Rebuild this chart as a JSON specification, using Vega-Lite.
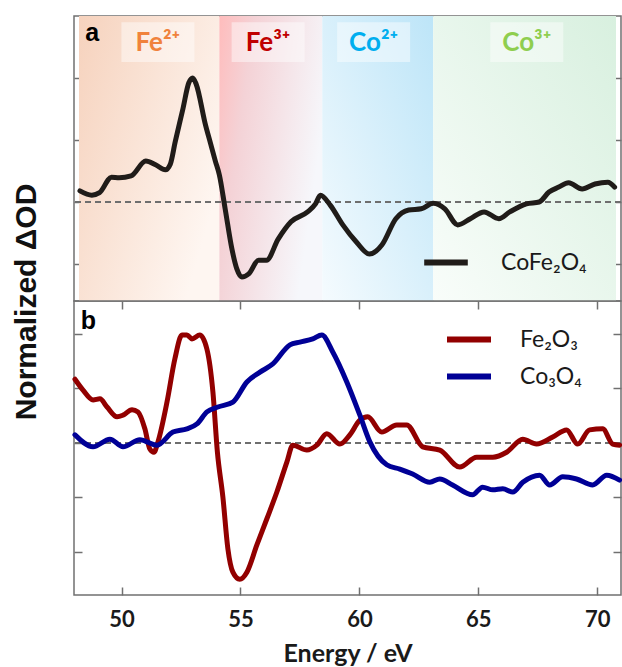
{
  "$schema": "https://vega.github.io/schema/vega-lite/v6.json",
  "padding": {"left": 10, "top": 14, "right": 1, "bottom": 0},
  "spacing": 0,
  "bounds": "flush",
  "background": "white",
  "resolve": {"scale": {"color": "independent", "fill": "independent"}, "legend": {"color": "independent"}},
  "config": {
    "view": {"stroke": "#707070", "strokeWidth": 1.5},
    "axis": {"domain": false, "grid": false, "labels": false, "ticks": true, "tickSize": -8, "tickColor": "#707070", "tickWidth": 1.5}
  },
  "datasets": {
    "ions": [
      {"ion": "Fe²⁺", "start": 48, "end": 54.01, "E": 51.38},
      {"ion": "Fe³⁺", "start": 54.01, "end": 58.42, "E": 56.1},
      {"ion": "Co²⁺", "start": 58.42, "end": 63.17, "E": 60.62},
      {"ion": "Co³⁺", "start": 63.17, "end": 71, "E": 67.18}
    ],
    "cofe": [
      {"series": "CoFe₂O₄", "E": 48.04, "v": 0.18}, {"series": "CoFe₂O₄", "E": 48.55, "v": 0.11}, {"series": "CoFe₂O₄", "E": 48.88, "v": 0.15},
      {"series": "CoFe₂O₄", "E": 49.39, "v": 0.40}, {"series": "CoFe₂O₄", "E": 49.72, "v": 0.39}, {"series": "CoFe₂O₄", "E": 50.23, "v": 0.42},
      {"series": "CoFe₂O₄", "E": 50.86, "v": 0.66}, {"series": "CoFe₂O₄", "E": 51.28, "v": 0.60}, {"series": "CoFe₂O₄", "E": 51.70, "v": 0.52},
      {"series": "CoFe₂O₄", "E": 51.91, "v": 0.61}, {"series": "CoFe₂O₄", "E": 52.12, "v": 0.97}, {"series": "CoFe₂O₄", "E": 52.45, "v": 1.50},
      {"series": "CoFe₂O₄", "E": 52.70, "v": 1.92}, {"series": "CoFe₂O₄", "E": 52.87, "v": 2.0}, {"series": "CoFe₂O₄", "E": 53.02, "v": 1.90},
      {"series": "CoFe₂O₄", "E": 53.42, "v": 1.24}, {"series": "CoFe₂O₄", "E": 53.63, "v": 0.95}, {"series": "CoFe₂O₄", "E": 53.84, "v": 0.66},
      {"series": "CoFe₂O₄", "E": 54.01, "v": 0.44}, {"series": "CoFe₂O₄", "E": 54.26, "v": -0.11}, {"series": "CoFe₂O₄", "E": 54.55, "v": -0.76},
      {"series": "CoFe₂O₄", "E": 54.76, "v": -1.08}, {"series": "CoFe₂O₄", "E": 54.97, "v": -1.21}, {"series": "CoFe₂O₄", "E": 55.27, "v": -1.16},
      {"series": "CoFe₂O₄", "E": 55.69, "v": -0.94}, {"series": "CoFe₂O₄", "E": 56.03, "v": -0.94}, {"series": "CoFe₂O₄", "E": 56.53, "v": -0.60},
      {"series": "CoFe₂O₄", "E": 57.08, "v": -0.32}, {"series": "CoFe₂O₄", "E": 57.79, "v": -0.16}, {"series": "CoFe₂O₄", "E": 58.13, "v": -0.03},
      {"series": "CoFe₂O₄", "E": 58.34, "v": 0.11}, {"series": "CoFe₂O₄", "E": 58.76, "v": -0.05}, {"series": "CoFe₂O₄", "E": 59.30, "v": -0.37},
      {"series": "CoFe₂O₄", "E": 59.89, "v": -0.65}, {"series": "CoFe₂O₄", "E": 60.44, "v": -0.84}, {"series": "CoFe₂O₄", "E": 60.98, "v": -0.69},
      {"series": "CoFe₂O₄", "E": 61.57, "v": -0.27}, {"series": "CoFe₂O₄", "E": 62.12, "v": -0.13}, {"series": "CoFe₂O₄", "E": 62.66, "v": -0.11},
      {"series": "CoFe₂O₄", "E": 63.17, "v": -0.02}, {"series": "CoFe₂O₄", "E": 63.67, "v": -0.11}, {"series": "CoFe₂O₄", "E": 64.22, "v": -0.37},
      {"series": "CoFe₂O₄", "E": 64.76, "v": -0.27}, {"series": "CoFe₂O₄", "E": 65.35, "v": -0.16}, {"series": "CoFe₂O₄", "E": 65.98, "v": -0.27},
      {"series": "CoFe₂O₄", "E": 66.45, "v": -0.16}, {"series": "CoFe₂O₄", "E": 67.16, "v": -0.03}, {"series": "CoFe₂O₄", "E": 67.71, "v": 0.0},
      {"series": "CoFe₂O₄", "E": 68.13, "v": 0.16}, {"series": "CoFe₂O₄", "E": 68.55, "v": 0.24}, {"series": "CoFe₂O₄", "E": 68.97, "v": 0.31},
      {"series": "CoFe₂O₄", "E": 69.55, "v": 0.21}, {"series": "CoFe₂O₄", "E": 70.10, "v": 0.29}, {"series": "CoFe₂O₄", "E": 70.65, "v": 0.32},
      {"series": "CoFe₂O₄", "E": 70.94, "v": 0.24}
    ],
    "ref": [
      {"series": "Fe₂O₃", "E": 48.04, "v": 1.17}, {"series": "Fe₂O₃", "E": 48.38, "v": 0.97}, {"series": "Fe₂O₃", "E": 48.80, "v": 0.79},
      {"series": "Fe₂O₃", "E": 49.09, "v": 0.81}, {"series": "Fe₂O₃", "E": 49.39, "v": 0.66}, {"series": "Fe₂O₃", "E": 49.81, "v": 0.48},
      {"series": "Fe₂O₃", "E": 50.06, "v": 0.51}, {"series": "Fe₂O₃", "E": 50.44, "v": 0.61}, {"series": "Fe₂O₃", "E": 50.69, "v": 0.57},
      {"series": "Fe₂O₃", "E": 50.98, "v": 0.26}, {"series": "Fe₂O₃", "E": 51.19, "v": -0.11}, {"series": "Fe₂O₃", "E": 51.36, "v": -0.17},
      {"series": "Fe₂O₃", "E": 51.53, "v": 0.02}, {"series": "Fe₂O₃", "E": 51.91, "v": 0.75}, {"series": "Fe₂O₃", "E": 52.24, "v": 1.54},
      {"series": "Fe₂O₃", "E": 52.54, "v": 1.98}, {"series": "Fe₂O₃", "E": 52.75, "v": 1.98}, {"series": "Fe₂O₃", "E": 52.96, "v": 1.91},
      {"series": "Fe₂O₃", "E": 53.29, "v": 1.98}, {"series": "Fe₂O₃", "E": 53.59, "v": 1.72}, {"series": "Fe₂O₃", "E": 53.84, "v": 0.94},
      {"series": "Fe₂O₃", "E": 54.03, "v": -0.17}, {"series": "Fe₂O₃", "E": 54.26, "v": -0.99}, {"series": "Fe₂O₃", "E": 54.47, "v": -1.94},
      {"series": "Fe₂O₃", "E": 54.68, "v": -2.37}, {"series": "Fe₂O₃", "E": 54.97, "v": -2.50}, {"series": "Fe₂O₃", "E": 55.27, "v": -2.37},
      {"series": "Fe₂O₃", "E": 55.69, "v": -1.87}, {"series": "Fe₂O₃", "E": 56.11, "v": -1.39}, {"series": "Fe₂O₃", "E": 56.53, "v": -0.90},
      {"series": "Fe₂O₃", "E": 56.95, "v": -0.35}, {"series": "Fe₂O₃", "E": 57.20, "v": -0.04}, {"series": "Fe₂O₃", "E": 57.79, "v": -0.13},
      {"series": "Fe₂O₃", "E": 58.21, "v": -0.04}, {"series": "Fe₂O₃", "E": 58.63, "v": 0.17}, {"series": "Fe₂O₃", "E": 59.18, "v": -0.02},
      {"series": "Fe₂O₃", "E": 59.60, "v": 0.15}, {"series": "Fe₂O₃", "E": 60.02, "v": 0.42}, {"series": "Fe₂O₃", "E": 60.35, "v": 0.48},
      {"series": "Fe₂O₃", "E": 60.94, "v": 0.20}, {"series": "Fe₂O₃", "E": 61.57, "v": 0.33}, {"series": "Fe₂O₃", "E": 61.99, "v": 0.33},
      {"series": "Fe₂O₃", "E": 62.66, "v": -0.07}, {"series": "Fe₂O₃", "E": 63.38, "v": -0.13}, {"series": "Fe₂O₃", "E": 64.22, "v": -0.44},
      {"series": "Fe₂O₃", "E": 64.93, "v": -0.26}, {"series": "Fe₂O₃", "E": 65.61, "v": -0.26}, {"series": "Fe₂O₃", "E": 66.19, "v": -0.17},
      {"series": "Fe₂O₃", "E": 66.87, "v": 0.07}, {"series": "Fe₂O₃", "E": 67.45, "v": -0.02}, {"series": "Fe₂O₃", "E": 68.13, "v": 0.11},
      {"series": "Fe₂O₃", "E": 68.71, "v": 0.24}, {"series": "Fe₂O₃", "E": 69.18, "v": -0.02}, {"series": "Fe₂O₃", "E": 69.68, "v": 0.24},
      {"series": "Fe₂O₃", "E": 70.23, "v": 0.26}, {"series": "Fe₂O₃", "E": 70.65, "v": -0.02}, {"series": "Fe₂O₃", "E": 70.94, "v": -0.04},
      {"series": "Co₃O₄", "E": 48.04, "v": 0.15}, {"series": "Co₃O₄", "E": 48.80, "v": -0.07}, {"series": "Co₃O₄", "E": 49.51, "v": 0.07},
      {"series": "Co₃O₄", "E": 50.06, "v": -0.07}, {"series": "Co₃O₄", "E": 50.77, "v": 0.06}, {"series": "Co₃O₄", "E": 51.49, "v": -0.04},
      {"series": "Co₃O₄", "E": 52.16, "v": 0.20}, {"series": "Co₃O₄", "E": 52.75, "v": 0.26}, {"series": "Co₃O₄", "E": 53.17, "v": 0.35},
      {"series": "Co₃O₄", "E": 53.59, "v": 0.57}, {"series": "Co₃O₄", "E": 54.05, "v": 0.66}, {"series": "Co₃O₄", "E": 54.68, "v": 0.75},
      {"series": "Co₃O₄", "E": 55.27, "v": 1.12}, {"series": "Co₃O₄", "E": 55.82, "v": 1.30}, {"series": "Co₃O₄", "E": 56.36, "v": 1.45},
      {"series": "Co₃O₄", "E": 57.08, "v": 1.80}, {"series": "Co₃O₄", "E": 57.50, "v": 1.85}, {"series": "Co₃O₄", "E": 58.04, "v": 1.91},
      {"series": "Co₃O₄", "E": 58.42, "v": 1.98}, {"series": "Co₃O₄", "E": 58.88, "v": 1.67}, {"series": "Co₃O₄", "E": 59.47, "v": 1.12},
      {"series": "Co₃O₄", "E": 60.02, "v": 0.51}, {"series": "Co₃O₄", "E": 60.44, "v": 0.02}, {"series": "Co₃O₄", "E": 61.15, "v": -0.40},
      {"series": "Co₃O₄", "E": 61.70, "v": -0.48}, {"series": "Co₃O₄", "E": 62.24, "v": -0.57}, {"series": "Co₃O₄", "E": 62.96, "v": -0.72},
      {"series": "Co₃O₄", "E": 63.38, "v": -0.66}, {"series": "Co₃O₄", "E": 63.92, "v": -0.77}, {"series": "Co₃O₄", "E": 64.76, "v": -0.95},
      {"series": "Co₃O₄", "E": 65.18, "v": -0.81}, {"series": "Co₃O₄", "E": 65.61, "v": -0.86}, {"series": "Co₃O₄", "E": 66.03, "v": -0.84},
      {"series": "Co₃O₄", "E": 66.45, "v": -0.90}, {"series": "Co₃O₄", "E": 66.87, "v": -0.72}, {"series": "Co₃O₄", "E": 67.58, "v": -0.59},
      {"series": "Co₃O₄", "E": 68.00, "v": -0.77}, {"series": "Co₃O₄", "E": 68.55, "v": -0.62}, {"series": "Co₃O₄", "E": 69.13, "v": -0.66},
      {"series": "Co₃O₄", "E": 69.81, "v": -0.77}, {"series": "Co₃O₄", "E": 70.40, "v": -0.59}, {"series": "Co₃O₄", "E": 70.94, "v": -0.68}
    ]
  },
  "vconcat": [
    {
      "width": 547,
      "height": 285,
      "layer": [
        {
          "data": {"name": "ions"},
          "transform": [{"filter": "datum.ion === 'Fe²⁺'"}],
          "mark": {"type": "rect", "fill": {"gradient": "linear", "x1": 0, "y1": 0, "x2": 1, "y2": 0.6, "stops": [{"offset": 0, "color": "#f6d2bd"}, {"offset": 1, "color": "#fef6f1"}]}},
          "encoding": {
            "x": {"field": "start", "type": "quantitative", "scale": {"domain": [48, 71], "nice": false}, "axis": null},
            "x2": {"field": "end"}
          }
        },
        {
          "data": {"name": "ions"},
          "transform": [{"filter": "datum.ion === 'Fe³⁺'"}],
          "mark": {"type": "rect", "fill": {"gradient": "linear", "x1": 0, "y1": 0, "x2": 1, "y2": 0.4, "stops": [{"offset": 0, "color": "#ffbcbc"}, {"offset": 0.3, "color": "#f4d2d6"}, {"offset": 1, "color": "#f6f7fb"}]}},
          "encoding": {
            "x": {"field": "start", "type": "quantitative", "scale": {"domain": [48, 71], "nice": false}, "axis": null},
            "x2": {"field": "end"}
          }
        },
        {
          "data": {"name": "ions"},
          "transform": [{"filter": "datum.ion === 'Co²⁺'"}],
          "mark": {"type": "rect", "fill": {"gradient": "linear", "x1": 0, "y1": 1, "x2": 1, "y2": 0, "stops": [{"offset": 0, "color": "#f5fbfe"}, {"offset": 1, "color": "#bde5f8"}]}},
          "encoding": {
            "x": {"field": "start", "type": "quantitative", "scale": {"domain": [48, 71], "nice": false}, "axis": null},
            "x2": {"field": "end"}
          }
        },
        {
          "data": {"name": "ions"},
          "transform": [{"filter": "datum.ion === 'Co³⁺'"}],
          "mark": {"type": "rect", "fill": {"gradient": "linear", "x1": 0, "y1": 1, "x2": 1, "y2": 0, "stops": [{"offset": 0, "color": "#f9fdfa"}, {"offset": 1, "color": "#d8f0df"}]}},
          "encoding": {
            "x": {"field": "start", "type": "quantitative", "scale": {"domain": [48, 71], "nice": false}, "axis": null},
            "x2": {"field": "end"}
          }
        },
        {
          "data": {"name": "ions"},
          "mark": {"type": "bar", "width": 73, "fill": "white", "opacity": 0.45},
          "encoding": {
            "x": {"field": "E", "type": "quantitative", "scale": {"domain": [48, 71], "nice": false}, "axis": null},
            "y": {"datum": 2.9, "type": "quantitative", "scale": {"domain": [-1.597, 3], "nice": false}, "axis": null},
            "y2": {"datum": 2.26}
          }
        },
        {
          "data": {"name": "ions"},
          "mark": {"type": "text", "font": "Lato", "fontSize": 26, "fontWeight": "bold", "align": "center", "baseline": "alphabetic"},
          "encoding": {
            "x": {"field": "E", "type": "quantitative", "scale": {"domain": [48, 71], "nice": false}, "axis": {"orient": "top", "values": [50, 55, 60, 65, 70], "title": null}},
            "y": {"datum": 2.44, "type": "quantitative", "scale": {"domain": [-1.597, 3], "nice": false}, "axis": {"orient": "right", "values": [-1, 0, 1, 2], "title": null}},
            "text": {"field": "ion"},
            "fill": {"field": "ion", "type": "nominal", "scale": {"domain": ["Fe²⁺", "Fe³⁺", "Co²⁺", "Co³⁺"], "range": ["#f0823c", "#c00000", "#00aeef", "#8fce4f"]}, "legend": null}
          }
        },
        {
          "data": {"values": [{}]},
          "mark": {"type": "text", "text": "a", "font": "Liberation Sans", "fontSize": 25, "fontWeight": "bold", "align": "center", "baseline": "alphabetic", "color": "#000000"},
          "encoding": {
            "x": {"datum": 48.57, "type": "quantitative", "scale": {"domain": [48, 71], "nice": false}, "axis": null},
            "y": {"datum": 2.6, "type": "quantitative", "scale": {"domain": [-1.597, 3], "nice": false}, "axis": null}
          }
        },
        {
          "data": {"values": [{}]},
          "mark": {"type": "rule", "strokeDash": [6, 4], "color": "#6e6e6e", "strokeWidth": 2},
          "encoding": {
            "y": {"datum": 0, "type": "quantitative", "scale": {"domain": [-1.597, 3], "nice": false}, "axis": null}
          }
        },
        {
          "data": {"name": "cofe"},
          "mark": {"type": "line", "strokeWidth": 5, "strokeJoin": "round", "strokeCap": "round", "interpolate": "monotone"},
          "encoding": {
            "x": {"field": "E", "type": "quantitative", "scale": {"domain": [48, 71], "nice": false}, "axis": {"orient": "bottom", "values": [50, 55, 60, 65, 70], "title": null}},
            "y": {"field": "v", "type": "quantitative", "scale": {"domain": [-1.597, 3], "nice": false}, "axis": {"orient": "left", "values": [-1, 0, 1, 2], "title": null}},
            "color": {
              "field": "series", "type": "nominal",
              "scale": {"domain": ["CoFe₂O₄"], "range": ["#201c19"]},
              "legend": {"orient": "none", "legendX": 347, "legendY": 235, "title": null, "symbolType": "stroke", "symbolStrokeWidth": 6, "symbolSize": 1900, "clipHeight": 23, "labelFont": "Lato", "labelFontSize": 23, "labelColor": "#1a1a1a", "labelOffset": 30, "padding": 0}
            }
          }
        }
      ]
    },
    {
      "width": 547,
      "height": 294,
      "layer": [
        {
          "data": {"values": [{}]},
          "mark": {"type": "rule", "strokeDash": [6, 4], "color": "#6e6e6e", "strokeWidth": 2},
          "encoding": {
            "y": {"datum": 0, "type": "quantitative", "scale": {"domain": [-2.789, 2.605], "nice": false}, "axis": null}
          }
        },
        {
          "data": {"values": [{}]},
          "mark": {"type": "text", "text": "b", "font": "Liberation Sans", "fontSize": 25, "fontWeight": "bold", "align": "center", "baseline": "alphabetic", "color": "#000000"},
          "encoding": {
            "x": {"datum": 48.6, "type": "quantitative", "scale": {"domain": [48, 71], "nice": false}, "axis": {"orient": "top", "values": [50, 55, 60, 65, 70], "title": null}},
            "y": {"datum": 2.09, "type": "quantitative", "scale": {"domain": [-2.789, 2.605], "nice": false}, "axis": {"orient": "right", "values": [-2, -1, 0, 1, 2], "title": null}}
          }
        },
        {
          "data": {"name": "ref"},
          "mark": {"type": "line", "strokeWidth": 5, "strokeJoin": "round", "strokeCap": "round", "interpolate": "monotone"},
          "encoding": {
            "x": {"field": "E", "type": "quantitative", "scale": {"domain": [48, 71], "nice": false},
              "axis": {"orient": "bottom", "values": [50, 55, 60, 65, 70], "labels": true, "labelFont": "Lato", "labelFontSize": 22, "labelFontWeight": "bold", "labelColor": "#1a1a1a", "labelPadding": 22,
                "title": "Energy / eV", "titleFont": "Lato", "titleFontSize": 25, "titleFontWeight": "bold", "titleColor": "#1a1a1a", "titlePadding": 11}},
            "y": {"field": "v", "type": "quantitative", "scale": {"domain": [-2.789, 2.605], "nice": false},
              "axis": {"orient": "left", "values": [-2, -1, 0, 1, 2], "title": "Normalized ΔOD", "titleFont": "Liberation Sans", "titleFontSize": 30, "titleFontWeight": "bold", "titleColor": "#111111", "titleAngle": 270, "titleX": -39, "titleY": 0.5, "titleAlign": "center", "titleBaseline": "alphabetic"}},
            "color": {
              "field": "series", "type": "nominal",
              "scale": {"domain": ["Fe₂O₃", "Co₃O₄"], "range": ["#920000", "#000096"]},
              "legend": {"orient": "none", "legendX": 370, "legendY": 27, "title": null, "symbolType": "stroke", "symbolStrokeWidth": 6, "symbolSize": 1936, "clipHeight": 23, "rowPadding": 13, "labelFont": "Lato", "labelFontSize": 23, "labelColor": "#1a1a1a", "labelOffset": 26, "padding": 0}
            }
          }
        }
      ]
    }
  ]
}
